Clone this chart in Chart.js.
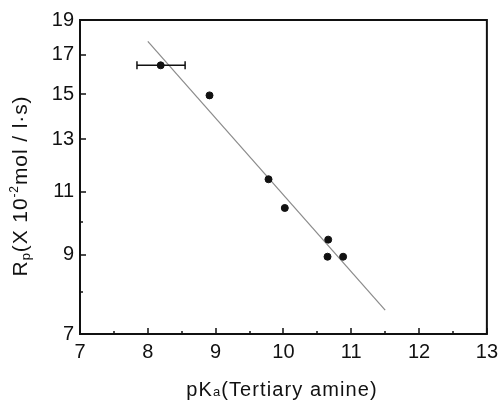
<!DOCTYPE html>
<html>
<head>
<meta charset="utf-8">
<script src="https://cdn.jsdelivr.net/npm/chart.js@4/dist/chart.umd.min.js"></script>
<style>
html,body{margin:0;padding:0;background:#fff;}
#wrap{width:504px;height:403px;}
</style>
</head>
<body>
<div id="wrap"><canvas id="c" width="504" height="403"></canvas></div>
<script>
// ---- data ----
const pKa = [8.19, 8.91, 9.78, 10.02, 10.66, 10.65, 10.88];
const Rp = [16.45, 14.95, 11.45, 10.45, 9.45, 8.95, 8.95];
const fitX = [8.0, 11.5];
const fitY = [17.75, 7.55];
const errX = [7.84, 8.55];
const errY = [16.45, 16.45];
const xTicks = [7, 8, 9, 10, 11, 12, 13];
const xMinorTicks = [7.5, 8.5, 9.5, 10.5, 11.5, 12.5];
const yTicks = [7, 9, 11, 13, 15, 17, 19];
const yMinorTicks = [8, 10];

const FONT = '"Liberation Sans", Arial, Helvetica, sans-serif';

function pts(xs, ys){ return xs.map((x,i)=>({x:x, y:ys[i]})); }

const framePlugin = {
  id: 'frame',
  afterDatasetsDraw(chart){
    const {ctx, chartArea:a, scales:{x, y}} = chart;
    ctx.save();
    ctx.strokeStyle = '#111';
    ctx.lineWidth = 2;
    ctx.strokeRect(a.left, a.top, a.right - a.left, a.bottom - a.top);
    ctx.lineWidth = 1.5;
    ctx.beginPath();
    xTicks.forEach(v=>{ const px = Math.round(x.getPixelForValue(v)); ctx.moveTo(px, a.bottom); ctx.lineTo(px, a.bottom-6); });
    xMinorTicks.forEach(v=>{ const px = Math.round(x.getPixelForValue(v)); ctx.moveTo(px, a.bottom); ctx.lineTo(px, a.bottom-3); });
    yTicks.forEach(v=>{ const py = Math.round(y.getPixelForValue(v)); ctx.moveTo(a.left, py); ctx.lineTo(a.left+6, py); });
    yMinorTicks.forEach(v=>{ const py = Math.round(y.getPixelForValue(v)); ctx.moveTo(a.left, py); ctx.lineTo(a.left+3, py); });
    ctx.stroke();
    ctx.restore();
  },
  afterDraw(chart){
    const ctx = chart.ctx;
    const a = chart.chartArea;
    // segments: [text, size, dy]
    function drawSegs(segs, cx, cy, sp){
      ctx.letterSpacing = sp + 'px';
      let total = 0;
      segs.forEach(s=>{ ctx.font = s[1]+'px '+FONT; total += ctx.measureText(s[0]).width; });
      let xx = cx - total/2;
      segs.forEach(s=>{
        ctx.font = s[1]+'px '+FONT;
        ctx.fillText(s[0], xx, cy + s[2]);
        xx += ctx.measureText(s[0]).width;
      });
      ctx.letterSpacing = '0px';
    }
    ctx.save();
    ctx.fillStyle = '#111';
    ctx.textBaseline = 'alphabetic';
    ctx.textAlign = 'left';
    drawSegs([['pK',20,0],['a',13,0],['(Tertiary amine)',20,0]], 282, 396, 1.1);
    ctx.translate(27, 186);
    ctx.rotate(-Math.PI/2);
    drawSegs([['R',21,0],['p',13,3],['(X 10',21,0],['-2',12,-9],['mol / l\u00b7s)',21,0]], 0, 0, 0.9);
    ctx.restore();
  }
};

new Chart(document.getElementById('c'), {
  type: 'scatter',
  data: {
    datasets: [
      {
        label: 'fit',
        data: pts(fitX, fitY),
        showLine: true,
        borderColor: '#8a8a8a',
        borderWidth: 1.2,
        pointRadius: 0,
        order: 3
      },
      {
        label: 'error',
        data: pts(errX, errY),
        showLine: true,
        borderColor: '#111',
        borderWidth: 1.5,
        pointStyle: 'line',
        rotation: 90,
        pointRadius: 4,
        pointBorderWidth: 1.5,
        pointBorderColor: '#111',
        order: 2
      },
      {
        label: 'Rp',
        data: pts(pKa, Rp),
        backgroundColor: '#111',
        borderColor: '#111',
        pointRadius: 3.5,
        order: 1
      }
    ]
  },
  options: {
    responsive: false,
    animation: false,
    layout: { padding: { left: 0, top: 20, right: 12, bottom: 0 } },
    plugins: { legend: { display: false }, tooltip: { enabled: false } },
    scales: {
      x: {
        type: 'linear',
        min: 7, max: 13,
        grid: { display: false, drawTicks: false },
        border: { display: false },
        afterBuildTicks(s){ s.ticks = xTicks.map(v=>({value:v})); },
        afterFit(s){ s.height = 69; },
        ticks: { color: '#111', font: { family: FONT, size: 20 }, padding: 6, maxRotation: 0,
                 callback: v => String(v) }
      },
      y: {
        type: 'logarithmic',
        min: 7, max: 19,
        grid: { display: false, drawTicks: false },
        border: { display: false },
        afterBuildTicks(s){ s.ticks = yTicks.map(v=>({value:v})); },
        afterFit(s){ s.width = 80; },
        ticks: { color: '#111', font: { family: FONT, size: 20 }, padding: 6,
                 callback: v => String(v) }
      }
    }
  },
  plugins: [framePlugin]
});
</script>
</body>
</html>
